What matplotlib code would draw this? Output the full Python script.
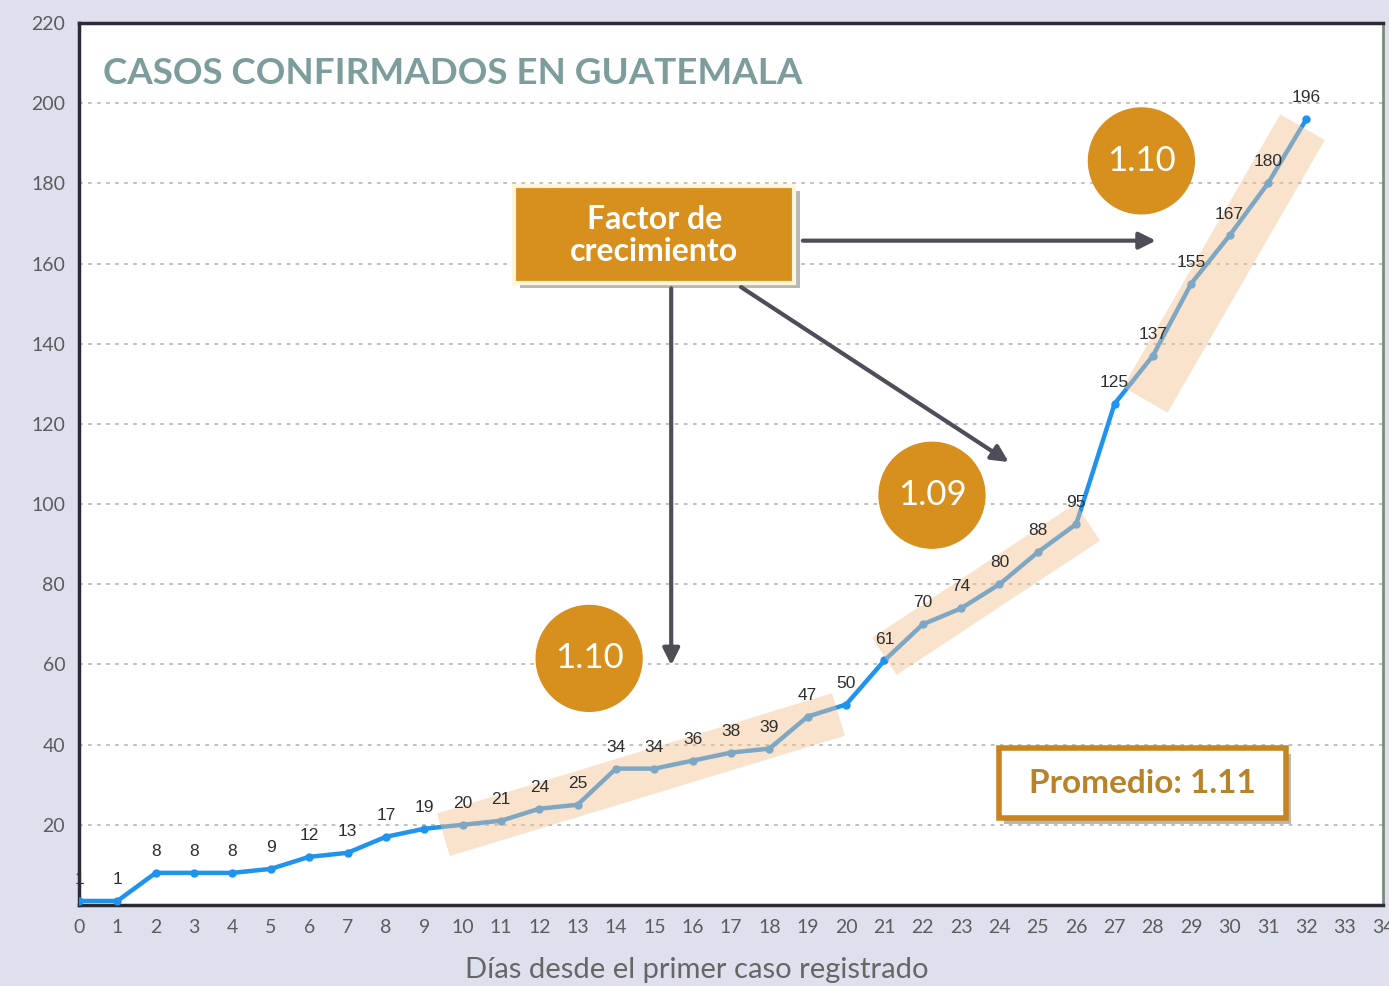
import matplotlib.pyplot as plt
from matplotlib.patches import Rectangle, Ellipse
import matplotlib.patheffects as pe

# data
dias = list(range(33))
casos = [1, 1, 8, 8, 8, 9, 12, 13, 17, 19, 20, 21, 24, 25, 34, 34, 36, 38, 39, 47,
         50, 61, 70, 74, 80, 88, 95, 125, 137, 155, 167, 180, 196]
x_ticks = list(range(35))
y_ticks = list(range(20, 221, 20))

# growth factor annotations: (text, day, cases)
factores = [("1.10", 13.3, 61.5), ("1.09", 22.24, 102.2), ("1.10", 27.7, 185.6)]
# highlighted stretches: (start day, start cases, end day, end cases)
tramos = [(9.5, 17.5, 19.8, 47.5), (21.0, 62.0, 26.3, 95.5), (27.8, 126, 31.9, 194)]

blue = '#1f93ee'
orange = '#d78f1e'
gray_txt = '#5c5c5c'

fig = plt.figure(figsize=(13.89, 9.86), dpi=100, facecolor='#dfe0ee')
ax = fig.add_axes([0.0569, 0.0822, 0.9388, 0.8945])
ax.set_facecolor('white')
ax.set_xlim(0, 34)
ax.set_ylim(0, 220)

# grid
for y in y_ticks[:-1]:
    ax.axhline(y, color='#b5bcb5', lw=1.3, ls=(0, (2, 3)), zorder=0)

ax.plot(dias, casos, color=blue, lw=3.2, marker='o', ms=5, zorder=3)
for d, c in zip(dias, casos):
    ax.annotate(str(c), (d, c), xytext=(0, 10), textcoords='offset points',
                ha='center', va='bottom', fontsize=12.5, color='#2e2e2e',
                family='Liberation Sans', zorder=4)

# peach bands, drawn over the line
for i, (x0, y0, x1, y1) in enumerate(tramos):
    ax.plot([x0, x1], [y0, y1], color='#f3c192', lw=37 if i == 2 else 32, alpha=0.45,
            solid_capstyle='butt', zorder=3.5)

# circles with growth factor
for txt, xd, yd in factores:
    ax.add_patch(Ellipse((xd, yd), 2.76, 26.4, color=orange, zorder=5))
    ax.text(xd, yd, txt, ha='center', va='center', color='white', fontsize=25,
            family='Lato', zorder=6)

# "Factor de crecimiento" box
shadow = [pe.withSimplePatchShadow(offset=(4, -4), shadow_rgbFace='#8a8a8a', alpha=0.6)]
ax.add_patch(Rectangle((11.35, 155.2), 7.3, 24.2, facecolor=orange, edgecolor='#fff6dc',
                       lw=3, zorder=5, path_effects=shadow))
ax.text(15.0, 167.0, "Factor de\ncrecimiento", ha='center', va='center', color='white',
        fontsize=23, fontweight='bold', family='Lato', linespacing=1.1, zorder=6)

arrow = dict(arrowstyle='-|>,head_length=1.0,head_width=0.5', color='#4e4e58', lw=3)
ax.annotate('', xy=(28.15, 165.7), xytext=(18.8, 165.7), arrowprops=arrow, zorder=5)
ax.annotate('', xy=(24.3, 110.1), xytext=(17.2, 154.5), arrowprops=arrow, zorder=5)
ax.annotate('', xy=(15.44, 59.1), xytext=(15.44, 154.5), arrowprops=arrow, zorder=5)

# "Promedio" box
ax.add_patch(Rectangle((23.98, 21.7), 7.48, 17.4, facecolor='white', edgecolor='#c8841f',
                       lw=4, zorder=5, path_effects=shadow))
ax.text(27.72, 30.4, "Promedio: 1.11", ha='center', va='center', color='#b8822a',
        fontsize=24, fontweight='bold', family='Lato', zorder=6)

ax.text(0.62, 207.5, "CASOS CONFIRMADOS EN GUATEMALA", color='#7d9c9c', fontsize=26.5,
        fontweight='bold', family='Lato', va='center')

ax.set_xticks(x_ticks)
ax.set_yticks(y_ticks)
ax.tick_params(length=0, labelsize=14, colors=gray_txt, pad=10)
for lab in ax.get_xticklabels() + ax.get_yticklabels():
    lab.set_family('Lato')
ax.set_xlabel("Días desde el primer caso registrado", fontsize=21, color='#666666',
              family='Lato')
ax.xaxis.set_label_coords(0.474, -0.0736)
ax.xaxis.label.set_va('center')

for side in ['left', 'bottom', 'top']:
    ax.spines[side].set_color('#2b2b35')
    ax.spines[side].set_linewidth(2.5)
ax.spines['right'].set_color('#7d8a80')
ax.spines['right'].set_linewidth(2)

fig.savefig('out.png', dpi=100, facecolor=fig.get_facecolor())
